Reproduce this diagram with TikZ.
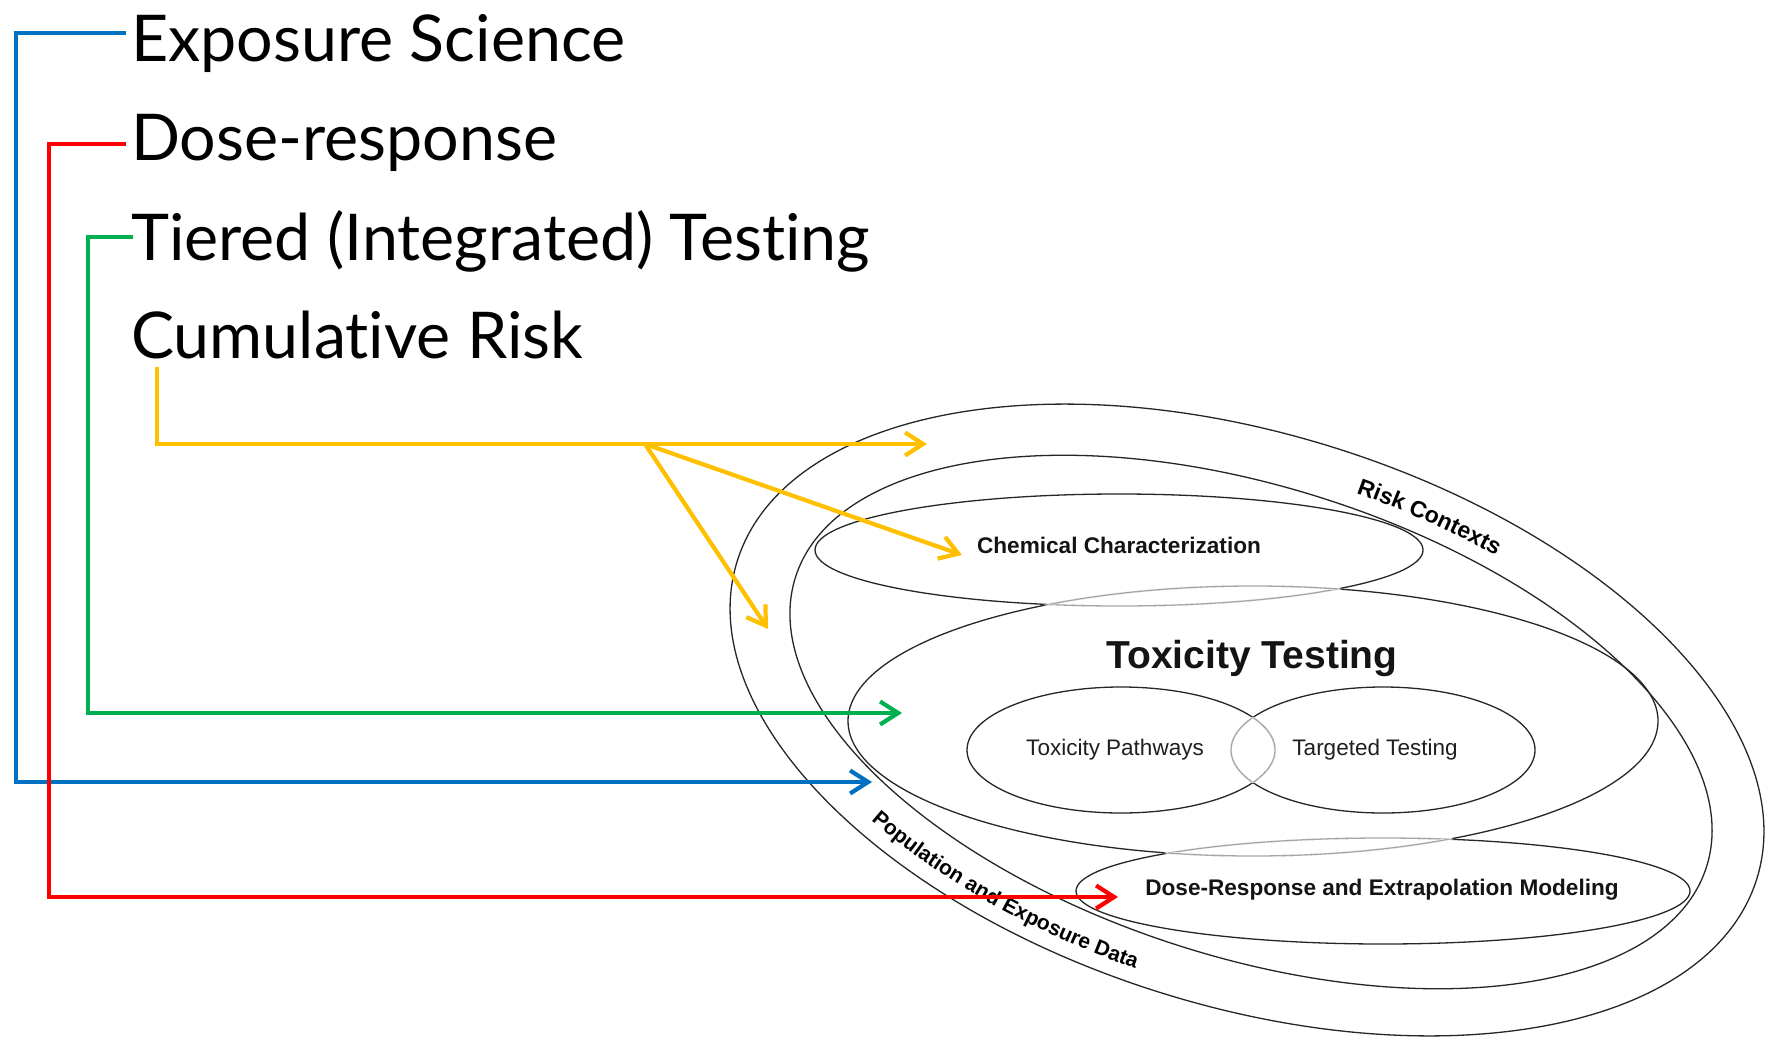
\documentclass[tikz,border=0pt]{standalone}
\usepackage{fontspec}
\setmainfont{Lato}[Ligatures={NoCommon}]
\newfontfamily\arial{Liberation Sans}
\usetikzlibrary{arrows.meta,decorations.text}
\definecolor{expoblue}{HTML}{0070C0}
\definecolor{dosered}{HTML}{FF0000}
\definecolor{tiergreen}{HTML}{00B050}
\definecolor{riskgold}{HTML}{FFC000}
\begin{document}
\begin{tikzpicture}[x=1pt,y=1pt,
  ring/.style={draw=black!85, line width=1.3pt},
  faint/.style={draw=black!35, line width=1.3pt},
  heading/.style={anchor=base west, inner sep=0pt, font=\fontsize{64.5}{78}\selectfont},
  inlabel/.style={anchor=base, inner sep=0pt, text=black!88, font=\arial\fontsize{22.5}{27}\selectfont},
  inbold/.style={anchor=base, inner sep=0pt, text=black!92, font=\arial\bfseries\fontsize{22.6}{27}\selectfont},
  link/.style={line width=4.2pt, -{Straight Barb[length=18pt,width=23pt]}},
  chemE/.style={insert path={(1119,-550) ellipse [x radius=304, y radius=56]}},
  toxE/.style={insert path={(1253,-721) ellipse [x radius=405, y radius=135]}},
  pathE/.style={insert path={(1121,-750) ellipse [x radius=154, y radius=63]}},
  targE/.style={insert path={(1383,-750) ellipse [x radius=152, y radius=63]}},
  doseE/.style={insert path={(1383,-891) ellipse [x radius=307, y radius=53]}},
 ]
\fill[white] (0,0) rectangle (1768,-1038);
\useasboundingbox (0,0) rectangle (1768,-1038);

% outer rings: population/exposure data and risk contexts
\begin{scope}[shift={(1247,-720)}, rotate=-17.3]
  \draw[ring] (0,0) ellipse [x radius=534, y radius=286];
\end{scope}
\begin{scope}[shift={(1251,-722)}, rotate=-17.65]
  \draw[ring] (0,0) ellipse [x radius=478, y radius=235];
\end{scope}

% inner regions
\draw[ring, chemE];
\draw[ring, toxE];
\draw[ring, pathE];
\draw[ring, targE];
\draw[ring, doseE];

% overlapping parts of outlines are lighter
\begin{scope}\clip[toxE]; \draw[white, line width=2.2pt, chemE]; \draw[faint, chemE]; \end{scope}
\begin{scope}\clip[chemE]; \draw[white, line width=2.2pt, toxE]; \draw[faint, toxE]; \end{scope}
\begin{scope}\clip[pathE]; \draw[white, line width=2.2pt, targE]; \draw[faint, targE]; \end{scope}
\begin{scope}\clip[targE]; \draw[white, line width=2.2pt, pathE]; \draw[faint, pathE]; \end{scope}
\begin{scope}\clip[toxE]; \draw[white, line width=2.2pt, doseE]; \draw[faint, doseE]; \end{scope}
\begin{scope}\clip[doseE]; \draw[white, line width=2.2pt, toxE]; \draw[faint, toxE]; \end{scope}

% region labels
\node[inbold] (chemL) at (1119,-553) {Chemical Characterization};
\node[inbold, font=\arial\bfseries\fontsize{39}{45}\selectfont] (toxL) at (1252,-668) {Toxicity Testing};
\node[inlabel] (pathL) at (1115,-755) {Toxicity Pathways};
\node[inlabel] (targL) at (1375,-755) {Targeted Testing};
\node[inbold] (doseL) at (1382,-895) {Dose-Response and Extrapolation Modeling};

% ring labels set along the rings
\begin{scope}[shift={(1249,-721)}, rotate=-17.5]
  \path[decorate, decoration={text along path, text align=center,
      text={|\arial\bfseries\fontsize{21}{25}\selectfont|Population and Exposure Data}}]
    (222.5:517 and 271) arc [start angle=222.5, end angle=272.5, x radius=517, y radius=271];
  \path[decorate, decoration={text along path, text align=center,
      text={|\arial\bfseries\fontsize{23}{27}\selectfont|Risk Contexts}}]
    (97:495 and 250) arc [start angle=97, end angle=56, x radius=495, y radius=250];
\end{scope}

% headings
\node[heading] (expo) at (131,-62) {Exposure Science};
\node[heading] (dose) at (131,-160) {Dose-response};
\node[heading] (tier) at (131,-260) {Tiered (Integrated) Testing};
\node[heading] (cumu) at (131,-358) {Cumulative Risk};

% connector bends and ends
\coordinate (blueTurn) at (16,-782);
\coordinate (blueTip) at (872,-782);
\coordinate (redTurn) at (49,-897);
\coordinate (redTip) at (1118,-897);
\coordinate (greenTurn) at (88,-713);
\coordinate (greenTip) at (902,-713);
\coordinate (fork) at (645,-444);
\coordinate (goldTipA) at (927,-444);
\coordinate (goldTipB) at (962,-555);
\coordinate (goldTipC) at (768,-629);

\draw[link, expoblue] ([xshift=-5pt, yshift=29pt]expo.base west) -| (blueTurn) -- (blueTip);
\draw[link, dosered] ([xshift=-5pt, yshift=16pt]dose.base west) -| (redTurn) -- (redTip);
\draw[link, tiergreen] ([xshift=2pt, yshift=23pt]tier.base west) -| (greenTurn) -- (greenTip);
\draw[link, riskgold] ([xshift=26pt, yshift=-9pt]cumu.base west) |- (fork) -- (goldTipA);
\draw[link, riskgold] (fork) -- (goldTipB);
\draw[link, riskgold] (fork) -- (goldTipC);
\end{tikzpicture}
\end{document}
